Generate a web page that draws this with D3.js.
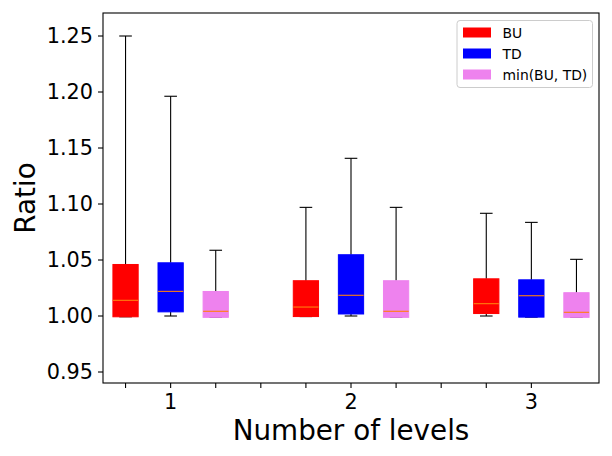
<!DOCTYPE html>
<html>
<head>
<meta charset="utf-8">
<script src="https://cdn.jsdelivr.net/npm/d3@7"></script>
<style>
  html, body { margin: 0; padding: 0; background: #fff; }
  svg { display: block; font-family: "DejaVu Sans", sans-serif; }
</style>
</head>
<body>
<script>
// ---- data ----
const categories = ["1", "2", "3"];
const seriesNames = ["BU", "TD", "min(BU, TD)"];
const seriesColors = ["#ff0000", "#0000ff", "#ee82ee"];
// each entry: [whiskerLow, q1, median, q3, whiskerHigh] per category
const buStats = [
  [0.9993, 0.9993, 1.0140, 1.0460, 1.2500],
  [0.9995, 0.9995, 1.0080, 1.0315, 1.0970],
  [1.0000, 1.0022, 1.0110, 1.0332, 1.0917]
];
const tdStats = [
  [1.0000, 1.0037, 1.0220, 1.0475, 1.1962],
  [1.0000, 1.0018, 1.0185, 1.0547, 1.1408],
  [0.9990, 0.9990, 1.0181, 1.0323, 1.0836]
];
const minStats = [
  [0.9988, 0.9988, 1.0042, 1.0219, 1.0587],
  [0.9988, 0.9988, 1.0042, 1.0315, 1.0970],
  [0.9988, 0.9988, 1.0033, 1.0208, 1.0506]
];
const yTicks = [0.95, 1.00, 1.05, 1.10, 1.15, 1.20, 1.25];
const xTickPositions = [1, 2, 3, 4, 5, 6, 7, 8, 9, 10];
const xTickLabels = ["", "1", "", "", "", "2", "", "", "", "3"];
const yLabel = "Ratio";
const xLabel = "Number of levels";

(function () {
  // ---- layout ----
  const W = 612, H = 456;
  const mLeft = 103, mRight = 599, mTop = 13, mBottom = 383;
  const allStats = [buStats, tdStats, minStats];

  const svg = d3.select("body").append("svg").attr("width", W).attr("height", H);

  const x = d3.scaleLinear().domain([0.5, 11.5]).range([mLeft, mRight]);
  const y = d3.scaleLinear().domain([0.94018, 1.27054]).range([mBottom, mTop]);

  const boxW = 0.56;
  const capW = 0.28;

  allStats.forEach((stats, si) => {
    const g = svg.append("g");
    stats.forEach((s, ci) => {
      const pos = ci * 4 + si + 1;
      const [lo, q1, med, q3, hi] = s;
      g.append("line").attr("x1", x(pos)).attr("x2", x(pos)).attr("y1", y(q3)).attr("y2", y(hi))
        .attr("stroke", "#000").attr("stroke-width", 1.1);
      g.append("line").attr("x1", x(pos)).attr("x2", x(pos)).attr("y1", y(lo)).attr("y2", y(q1))
        .attr("stroke", "#000").attr("stroke-width", 1.1);
      g.append("line").attr("x1", x(pos - capW / 2)).attr("x2", x(pos + capW / 2)).attr("y1", y(hi)).attr("y2", y(hi))
        .attr("stroke", "#000").attr("stroke-width", 1.1);
      g.append("line").attr("x1", x(pos - capW / 2)).attr("x2", x(pos + capW / 2)).attr("y1", y(lo)).attr("y2", y(lo))
        .attr("stroke", "#000").attr("stroke-width", 1.1);
      g.append("rect").attr("x", x(pos - boxW / 2)).attr("width", x(pos + boxW / 2) - x(pos - boxW / 2))
        .attr("y", y(q3)).attr("height", y(q1) - y(q3))
        .attr("fill", seriesColors[si]).attr("stroke", seriesColors[si]).attr("stroke-width", 1);
      g.append("line").attr("x1", x(pos - boxW / 2)).attr("x2", x(pos + boxW / 2)).attr("y1", y(med)).attr("y2", y(med))
        .attr("stroke", "#ff7f0e").attr("stroke-width", 1.1);
    });
  });

  svg.append("rect").attr("x", mLeft).attr("y", mTop).attr("width", mRight - mLeft).attr("height", mBottom - mTop)
    .attr("fill", "none").attr("stroke", "#000").attr("stroke-width", 1.1);

  const yAxis = svg.append("g");
  yTicks.forEach(t => {
    yAxis.append("line").attr("x1", mLeft - 5).attr("x2", mLeft).attr("y1", y(t)).attr("y2", y(t))
      .attr("stroke", "#000").attr("stroke-width", 1.1);
    yAxis.append("text").attr("x", mLeft - 10).attr("y", y(t)).attr("dy", "0.36em")
      .attr("text-anchor", "end").attr("font-size", "20.8px").attr("fill", "#000").text(t.toFixed(2));
  });

  const xAxis = svg.append("g");
  xTickPositions.forEach((p, i) => {
    xAxis.append("line").attr("x1", x(p)).attr("x2", x(p)).attr("y1", mBottom).attr("y2", mBottom + 5)
      .attr("stroke", "#000").attr("stroke-width", 1.1);
    if (xTickLabels[i]) {
      xAxis.append("text").attr("x", x(p)).attr("y", 409)
        .attr("text-anchor", "middle").attr("font-size", "20.8px").attr("fill", "#000").text(xTickLabels[i]);
    }
  });

  svg.append("text").attr("transform", `translate(35,${(mTop + mBottom) / 2}) rotate(-90)`)
    .attr("text-anchor", "middle").attr("font-size", "27.8px").attr("fill", "#000").text(yLabel);
  svg.append("text").attr("x", (mLeft + mRight) / 2).attr("y", 440)
    .attr("text-anchor", "middle").attr("font-size", "27.8px").attr("fill", "#000").text(xLabel);

  const lg = svg.append("g");
  lg.append("rect").attr("x", 457).attr("y", 20.5).attr("width", 135.5).attr("height", 67).attr("rx", 3)
    .attr("fill", "#fff").attr("fill-opacity", 0.8).attr("stroke", "#cccccc").attr("stroke-width", 1);
  const rowY = [32.5, 53.5, 74.5];
  seriesNames.forEach((name, i) => {
    lg.append("rect").attr("x", 463).attr("y", rowY[i] - 5).attr("width", 28).attr("height", 10)
      .attr("fill", seriesColors[i]);
    lg.append("text").attr("x", 502.5).attr("y", rowY[i]).attr("dy", "0.36em")
      .attr("font-size", "13.9px").attr("fill", "#000").text(name);
  });
})();
</script>
</body>
</html>
